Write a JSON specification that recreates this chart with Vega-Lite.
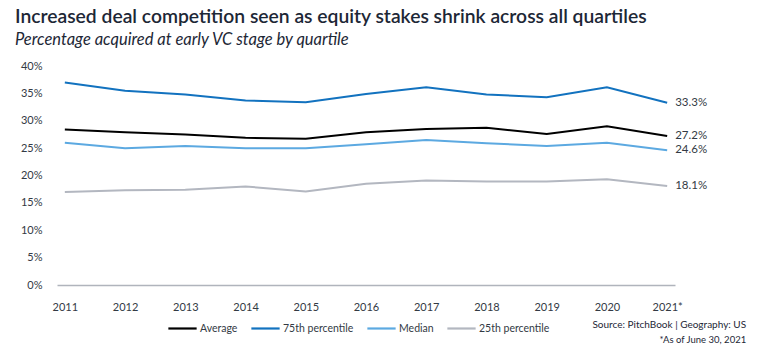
{
  "$schema": "https://vega.github.io/schema/vega-lite/v6.json",
  "autosize": {"type": "none"},
  "width": 618,
  "height": 219,
  "padding": {"left": 57, "top": 66, "right": 84, "bottom": 73},
  "background": "white",
  "title": {
    "text": "Increased deal competition seen as equity stakes shrink across all quartiles",
    "subtitle": "Percentage acquired at early VC stage by quartile",
    "anchor": "start",
    "frame": "group",
    "dx": -42,
    "offset": 12,
    "font": "Lato",
    "fontSize": 19.3,
    "fontWeight": 600,
    "color": "#1d2736",
    "subtitleFont": "Lato",
    "subtitleFontSize": 16.5,
    "subtitleFontStyle": "italic",
    "subtitleColor": "#1d2736",
    "subtitlePadding": 4
  },
  "config": {
    "view": {"stroke": null},
    "font": "Lato",
    "axis": {"labelFont": "Lato", "labelFontSize": 11, "labelColor": "#333a44"},
    "legend": {"labelFont": "Lato", "labelFontSize": 10.5, "labelColor": "#333a44"}
  },
  "data": {
    "values": [
      {"year": "2011", "series": "Average", "value": 0.284},
      {"year": "2012", "series": "Average", "value": 0.279},
      {"year": "2013", "series": "Average", "value": 0.275},
      {"year": "2014", "series": "Average", "value": 0.269},
      {"year": "2015", "series": "Average", "value": 0.267},
      {"year": "2016", "series": "Average", "value": 0.279},
      {"year": "2017", "series": "Average", "value": 0.285},
      {"year": "2018", "series": "Average", "value": 0.287},
      {"year": "2019", "series": "Average", "value": 0.276},
      {"year": "2020", "series": "Average", "value": 0.290},
      {"year": "2021*", "series": "Average", "value": 0.272},
      {"year": "2011", "series": "75th percentile", "value": 0.370},
      {"year": "2012", "series": "75th percentile", "value": 0.355},
      {"year": "2013", "series": "75th percentile", "value": 0.348},
      {"year": "2014", "series": "75th percentile", "value": 0.337},
      {"year": "2015", "series": "75th percentile", "value": 0.334},
      {"year": "2016", "series": "75th percentile", "value": 0.349},
      {"year": "2017", "series": "75th percentile", "value": 0.361},
      {"year": "2018", "series": "75th percentile", "value": 0.348},
      {"year": "2019", "series": "75th percentile", "value": 0.343},
      {"year": "2020", "series": "75th percentile", "value": 0.361},
      {"year": "2021*", "series": "75th percentile", "value": 0.333},
      {"year": "2011", "series": "Median", "value": 0.260},
      {"year": "2012", "series": "Median", "value": 0.250},
      {"year": "2013", "series": "Median", "value": 0.254},
      {"year": "2014", "series": "Median", "value": 0.250},
      {"year": "2015", "series": "Median", "value": 0.250},
      {"year": "2016", "series": "Median", "value": 0.257},
      {"year": "2017", "series": "Median", "value": 0.265},
      {"year": "2018", "series": "Median", "value": 0.259},
      {"year": "2019", "series": "Median", "value": 0.254},
      {"year": "2020", "series": "Median", "value": 0.260},
      {"year": "2021*", "series": "Median", "value": 0.246},
      {"year": "2011", "series": "25th percentile", "value": 0.170},
      {"year": "2012", "series": "25th percentile", "value": 0.173},
      {"year": "2013", "series": "25th percentile", "value": 0.174},
      {"year": "2014", "series": "25th percentile", "value": 0.180},
      {"year": "2015", "series": "25th percentile", "value": 0.171},
      {"year": "2016", "series": "25th percentile", "value": 0.185},
      {"year": "2017", "series": "25th percentile", "value": 0.191},
      {"year": "2018", "series": "25th percentile", "value": 0.189},
      {"year": "2019", "series": "25th percentile", "value": 0.189},
      {"year": "2020", "series": "25th percentile", "value": 0.193},
      {"year": "2021*", "series": "25th percentile", "value": 0.181}
    ]
  },
  "encoding": {
    "x": {
      "field": "year",
      "type": "ordinal",
      "scale": {"type": "point", "padding": 0.13},
      "axis": {
        "title": null,
        "labelAngle": 0,
        "ticks": false,
        "domainColor": "#b0b4bc",
        "domainWidth": 1.5,
        "labelPadding": 16
      }
    },
    "y": {
      "field": "value",
      "type": "quantitative",
      "scale": {"domain": [0, 0.4]},
      "axis": {
        "title": null,
        "format": ".0%",
        "values": [0, 0.05, 0.1, 0.15, 0.2, 0.25, 0.3, 0.35, 0.4],
        "domain": false,
        "ticks": false,
        "grid": false,
        "labelPadding": 15
      }
    },
    "color": {
      "field": "series",
      "type": "nominal",
      "sort": ["Average", "75th percentile", "Median", "25th percentile"],
      "scale": {
        "domain": ["Average", "75th percentile", "Median", "25th percentile"],
        "range": ["#000000", "#1272bf", "#5ca9e1", "#b3b7c0"]
      },
      "legend": {
        "title": null,
        "orient": "none",
        "legendX": 110,
        "legendY": 247,
        "direction": "horizontal",
        "symbolType": "stroke",
        "symbolStrokeWidth": 2.2,
        "symbolSize": 800,
        "columnPadding": 8,
        "labelOffset": 2
      }
    }
  },
  "layer": [
    {"mark": {"type": "line", "strokeWidth": 2}},
    {
      "transform": [{"filter": "datum.year == '2021*'"}],
      "mark": {"type": "text", "align": "left", "dx": 8, "fontSize": 11.5, "font": "Lato"},
      "encoding": {
        "text": {"field": "value", "type": "quantitative", "format": ".1%"},
        "color": {"value": "#333a44"}
      }
    },
    {
      "transform": [{"filter": "datum.year == '2021*' && datum.series == 'Average'"}],
      "mark": {"type": "text", "align": "right", "baseline": "middle", "dx": 79, "dy": 40, "fontSize": 10, "font": "Lato"},
      "encoding": {
        "y": {"datum": 0},
        "text": {"value": "Source: PitchBook | Geography: US"},
        "color": {"value": "#1d2736"}
      }
    },
    {
      "transform": [{"filter": "datum.year == '2021*' && datum.series == 'Average'"}],
      "mark": {"type": "text", "align": "right", "baseline": "middle", "dx": 79, "dy": 55, "fontSize": 9.5, "font": "Lato"},
      "encoding": {
        "y": {"datum": 0},
        "text": {"value": "*As of June 30, 2021"},
        "color": {"value": "#1d2736"}
      }
    }
  ]
}
